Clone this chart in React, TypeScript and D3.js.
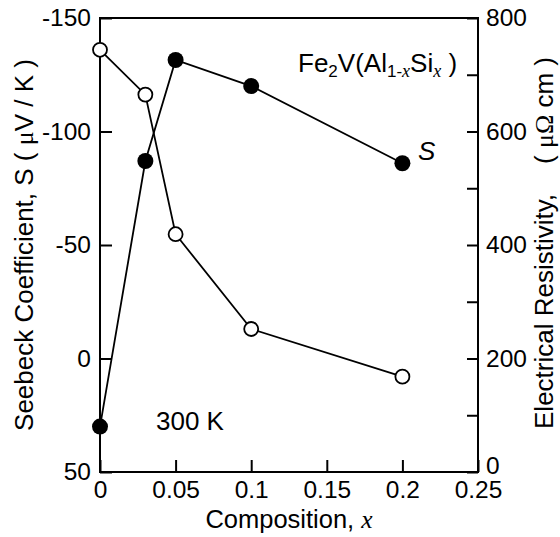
import { useRef, useEffect } from "react";
import * as d3 from "d3";

// Composition x
const composition = [0, 0.03, 0.05, 0.1, 0.2];
// Seebeck coefficient S (μV/K), filled circles, left axis
const seebeck = [30, -87, -131.5, -120, -86];
// Electrical resistivity (μΩ cm), open circles, right axis
const resistivity = [744, 665, 419, 252, 168];

const xTicks = [0, 0.05, 0.1, 0.15, 0.2, 0.25];
const sTicks = [-150, -100, -50, 0, 50];
const rhoTicks = [0, 200, 400, 600, 800];
const rhoMinor = [100, 300, 500, 700];

const font = "'Liberation Sans', Arial, sans-serif";
const serif = "'Liberation Serif', 'Times New Roman', serif";

export default function App() {
    const ref = useRef<SVGSVGElement>(null);

    // Chart attributes
    const chartAttr = {
        width: 560,
        height: 537,
        left: 100,
        right: 478,
        top: 18,
        bottom: 472
    };

    useEffect(() => {
        const svg = d3.select(ref.current);
        svg.selectAll("*").remove();

        const x = d3.scaleLinear().domain([0, 0.25]).range([chartAttr.left, chartAttr.right]);
        const yS = d3.scaleLinear().domain([-150, 50]).range([chartAttr.top, chartAttr.bottom]);
        const yR = d3.scaleLinear().domain([0, 800]).range([chartAttr.bottom, chartAttr.top]);

        const fmt = (d: d3.NumberValue) => String(+d);

        // Left axis
        const gl = svg.append("g")
            .attr("transform", `translate(${chartAttr.left},0)`)
            .call(d3.axisLeft(yS).tickValues(sTicks).tickSizeInner(-12).tickSizeOuter(0).tickPadding(9).tickFormat(fmt));

        // Right axis, major and minor
        const gr = svg.append("g")
            .attr("transform", `translate(${chartAttr.right},0)`)
            .call(d3.axisRight(yR).tickValues(rhoTicks).tickSizeInner(-11).tickSizeOuter(0).tickPadding(8).tickFormat(fmt));
        svg.append("g")
            .attr("transform", `translate(${chartAttr.right},0)`)
            .call(d3.axisRight(yR).tickValues(rhoMinor).tickSizeInner(-11).tickSizeOuter(0).tickFormat(() => ""));

        // Bottom axis
        const gb = svg.append("g")
            .attr("transform", `translate(0,${chartAttr.bottom})`)
            .call(d3.axisBottom(x).tickValues(xTicks).tickSizeInner(-12).tickSizeOuter(0).tickPadding(9).tickFormat(fmt));

        svg.selectAll(".domain").remove();
        svg.selectAll(".tick line").attr("stroke", "#000").attr("stroke-width", 2);
        [gl, gr, gb].forEach(g => g.selectAll("text")
            .attr("font-family", font)
            .attr("font-size", 24.5)
            .attr("fill", "#000"));
        // lift the right-hand "0" a little so it clears "0.25"
        gr.selectAll("text").filter((d: any) => d === 0).attr("dy", "0.05em");

        // Frame
        svg.append("rect")
            .attr("x", chartAttr.left)
            .attr("y", chartAttr.top)
            .attr("width", chartAttr.right - chartAttr.left)
            .attr("height", chartAttr.bottom - chartAttr.top)
            .attr("fill", "none")
            .attr("stroke", "#000")
            .attr("stroke-width", 2);

        // Lines
        const sLine = d3.line<number>()
            .x((d, i) => x(composition[i]))
            .y(d => yS(d));
        const rLine = d3.line<number>()
            .x((d, i) => x(composition[i]))
            .y(d => yR(d));

        svg.append("path")
            .attr("d", rLine(resistivity))
            .attr("fill", "none")
            .attr("stroke", "#000")
            .attr("stroke-width", 1.8);
        svg.append("path")
            .attr("d", sLine(seebeck))
            .attr("fill", "none")
            .attr("stroke", "#000")
            .attr("stroke-width", 1.8);

        // Markers
        svg.selectAll("circle.rho")
            .data(resistivity)
            .enter()
            .append("circle")
            .attr("class", "rho")
            .attr("cx", (d, i) => x(composition[i]))
            .attr("cy", d => yR(d))
            .attr("r", 7)
            .attr("fill", "#fff")
            .attr("stroke", "#000")
            .attr("stroke-width", 1.8);

        svg.selectAll("circle.s")
            .data(seebeck)
            .enter()
            .append("circle")
            .attr("class", "s")
            .attr("cx", (d, i) => x(composition[i]))
            .attr("cy", d => yS(d))
            .attr("r", 8)
            .attr("fill", "#000");

        // Axis titles
        const yl = svg.append("text")
            .attr("transform", "translate(33,245) rotate(-90)")
            .attr("text-anchor", "middle")
            .attr("font-family", font)
            .attr("font-size", 26);
        yl.append("tspan").text("Seebeck Coefficient, S ( ");
        yl.append("tspan").attr("font-family", serif).text("μ");
        yl.append("tspan").text("V / K )");

        const yr = svg.append("text")
            .attr("transform", "translate(553,243) rotate(-90)")
            .attr("text-anchor", "middle")
            .attr("font-family", font)
            .attr("font-size", 26);
        yr.append("tspan").text("Electrical Resistivity,");
        yr.append("tspan").attr("dx", 30).text("( ");
        yr.append("tspan").attr("font-family", serif).text("μΩ");
        yr.append("tspan").text(" cm )");

        const xl = svg.append("text")
            .attr("x", (chartAttr.left + chartAttr.right) / 2)
            .attr("y", 528)
            .attr("text-anchor", "middle")
            .attr("font-family", font)
            .attr("font-size", 25.5);
        xl.append("tspan").text("Composition, ");
        xl.append("tspan").attr("font-family", serif).attr("font-style", "italic").text("x");

        // Annotations
        const title = svg.append("text")
            .attr("x", 298)
            .attr("y", 72)
            .attr("font-family", font)
            .attr("font-size", 26);
        title.append("tspan").text("Fe");
        title.append("tspan").attr("font-size", 17).attr("dy", 5).text("2");
        title.append("tspan").attr("dy", -5).text("V(Al");
        title.append("tspan").attr("font-size", 17).attr("dy", 5).text("1-");
        title.append("tspan").attr("font-size", 18).attr("font-family", serif).attr("font-style", "italic").text("x");
        title.append("tspan").attr("dy", -5).text("Si");
        title.append("tspan").attr("font-size", 18).attr("dy", 5).attr("font-family", serif).attr("font-style", "italic").text("x");
        title.append("tspan").attr("dy", -5).text(" )");

        svg.append("text")
            .attr("x", 418)
            .attr("y", 160)
            .attr("font-family", font)
            .attr("font-style", "italic")
            .attr("font-size", 26)
            .text("S");

        svg.append("text")
            .attr("x", 156)
            .attr("y", 430)
            .attr("font-family", font)
            .attr("font-size", 26)
            .text("300 K");
    }, []);

    return (
        <div>
            <svg
                ref={ref}
                width={chartAttr.width}
                height={chartAttr.height}
                style={{ position: "absolute", left: 0, top: 0, background: "#fff" }}
            />
        </div>
    );
}
